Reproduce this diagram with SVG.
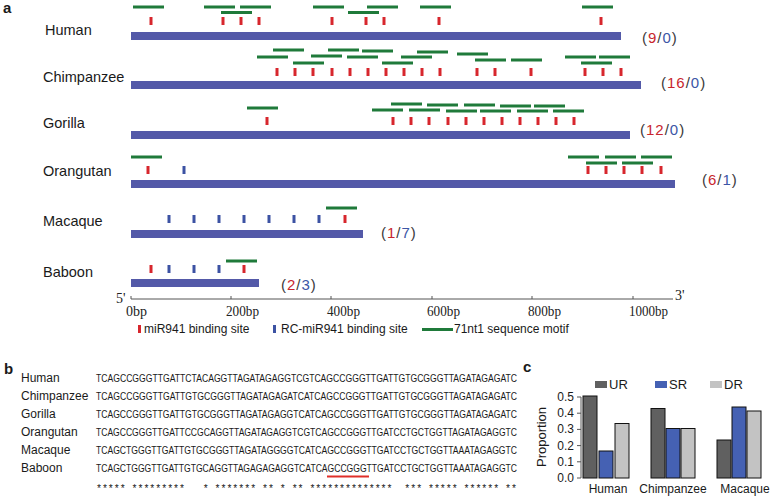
<svg xmlns="http://www.w3.org/2000/svg" width="773" height="497" viewBox="0 0 773 497">
<style>
text{font-family:"Liberation Sans",Arial,sans-serif;fill:#1a1a1a}
.pl{font-weight:bold;font-size:15px}
.sp{font-size:14.5px}
.cnt{font-size:15px;letter-spacing:1px;fill:#3a3a3a}
.r{fill:#c8262d}.b{fill:#3c56a6}
.bar{fill:#5359a8}
.rt{fill:#d7262d}
.bt{fill:#3c52a3}
.gm{fill:#1f7a3a}
.ax{stroke:#555;stroke-width:1;fill:none}
.bp{font-family:"Liberation Serif","Times New Roman",serif;font-size:14px;fill:#222}
.lg{font-size:12px}
.sq{font-size:10.8px}
.nm{font-size:12px}
.st{font-family:"Liberation Mono",monospace;font-size:10px;white-space:pre}
.cb{stroke:#111;stroke-width:1}
.ur{fill:#606060}.sr{fill:#4561b3}.dr{fill:#c3c3c3}
.ct{font-size:13px}
.tk{font-size:12px;text-anchor:end}
</style>
<defs>
<rect id="rt" x="-1.5" y="0" width="3" height="8" class="rt"/>
<rect id="bt" x="-1.5" y="0" width="3" height="8" class="bt"/>
<rect id="gm" x="0" y="-1.5" width="31" height="3" class="gm"/>
</defs>

<text x="3" y="13" class="pl">a</text>

<g id="human">
<text x="45" y="35" class="sp">Human</text>
<rect x="131" y="32" width="490" height="8" class="bar"/>
<g transform="translate(0,17)"><use href="#rt" x="151"/><use href="#rt" x="223"/><use href="#rt" x="241"/><use href="#rt" x="259"/><use href="#rt" x="332"/><use href="#rt" x="366"/><use href="#rt" x="384"/><use href="#rt" x="439"/><use href="#rt" x="601"/></g>
<use href="#gm" x="133" y="7"/><use href="#gm" x="204" y="7"/><use href="#gm" x="240" y="7"/><use href="#gm" x="313" y="7"/><use href="#gm" x="367" y="7"/><use href="#gm" x="420" y="7"/><use href="#gm" x="582" y="7"/>
<use href="#gm" x="221" y="12.5"/><use href="#gm" x="348" y="12.5"/>
<text x="642" y="43" class="cnt">(<tspan class="r">9</tspan>/<tspan class="b">0</tspan>)</text>
</g>

<g id="chimpanzee">
<text x="43" y="82" class="sp">Chimpanzee</text>
<rect x="131" y="81" width="510" height="8" class="bar"/>
<g transform="translate(0,68)"><use href="#rt" x="277"/><use href="#rt" x="295"/><use href="#rt" x="313"/><use href="#rt" x="332"/><use href="#rt" x="350"/><use href="#rt" x="368"/><use href="#rt" x="386"/><use href="#rt" x="404"/><use href="#rt" x="422"/><use href="#rt" x="440"/><use href="#rt" x="477"/><use href="#rt" x="495"/><use href="#rt" x="531"/><use href="#rt" x="585"/><use href="#rt" x="603"/><use href="#rt" x="621"/></g>
<use href="#gm" x="273" y="50"/><use href="#gm" x="257" y="57"/><use href="#gm" x="293" y="63"/><use href="#gm" x="328" y="50"/><use href="#gm" x="311" y="56"/><use href="#gm" x="362" y="51"/><use href="#gm" x="347" y="57"/><use href="#gm" x="382" y="63"/><use href="#gm" x="401" y="57"/><use href="#gm" x="417" y="52"/><use href="#gm" x="457" y="54"/><use href="#gm" x="475" y="60"/><use href="#gm" x="511" y="60"/><use href="#gm" x="565" y="57"/><use href="#gm" x="599" y="57"/><use href="#gm" x="581" y="63"/>
<text x="661" y="88" class="cnt">(<tspan class="r">16</tspan>/<tspan class="b">0</tspan>)</text>
</g>

<g id="gorilla">
<text x="43" y="128" class="sp">Gorilla</text>
<rect x="131" y="131" width="499" height="8" class="bar"/>
<g transform="translate(0,117)"><use href="#rt" x="267"/><use href="#rt" x="393"/><use href="#rt" x="411"/><use href="#rt" x="429"/><use href="#rt" x="448"/><use href="#rt" x="466"/><use href="#rt" x="484"/><use href="#rt" x="502"/><use href="#rt" x="520"/><use href="#rt" x="538"/><use href="#rt" x="556"/><use href="#rt" x="574"/></g>
<use href="#gm" x="247" y="108"/><use href="#gm" x="391" y="104"/><use href="#gm" x="372" y="110"/><use href="#gm" x="409" y="110"/><use href="#gm" x="427" y="105"/><use href="#gm" x="446" y="111"/><use href="#gm" x="464" y="105"/><use href="#gm" x="480" y="111"/><use href="#gm" x="500" y="106"/><use href="#gm" x="517" y="111"/><use href="#gm" x="534" y="106"/><use href="#gm" x="553" y="111"/>
<text x="640" y="135" class="cnt">(<tspan class="r">12</tspan>/<tspan class="b">0</tspan>)</text>
</g>

<g id="orangutan">
<text x="43" y="176" class="sp">Orangutan</text>
<rect x="131" y="180" width="544" height="8" class="bar"/>
<g transform="translate(0,166)"><use href="#rt" x="148"/><use href="#bt" x="184"/><use href="#rt" x="588"/><use href="#rt" x="606"/><use href="#rt" x="624"/><use href="#rt" x="642"/><use href="#rt" x="661"/></g>
<use href="#gm" x="131" y="157"/><use href="#gm" x="568" y="157"/><use href="#gm" x="605" y="157"/><use href="#gm" x="641" y="157"/><use href="#gm" x="586" y="163"/><use href="#gm" x="622" y="163"/>
<text x="702" y="185" class="cnt">(<tspan class="r">6</tspan>/<tspan class="b">1</tspan>)</text>
</g>

<g id="macaque">
<text x="43" y="226" class="sp">Macaque</text>
<rect x="131" y="230" width="232" height="8" class="bar"/>
<g transform="translate(0,215)"><use href="#bt" x="169"/><use href="#bt" x="194"/><use href="#bt" x="219"/><use href="#bt" x="244"/><use href="#bt" x="269"/><use href="#bt" x="294"/><use href="#bt" x="319"/><use href="#rt" x="345"/></g>
<use href="#gm" x="326" y="208"/>
<text x="381" y="238" class="cnt">(<tspan class="r">1</tspan>/<tspan class="b">7</tspan>)</text>
</g>

<g id="baboon">
<text x="43" y="277" class="sp">Baboon</text>
<rect x="131" y="279" width="128" height="8" class="bar"/>
<g transform="translate(0,265)"><use href="#rt" x="151"/><use href="#bt" x="169"/><use href="#bt" x="194"/><use href="#bt" x="219"/><use href="#rt" x="244"/></g>
<use href="#gm" x="226" y="261"/>
<text x="281" y="290" class="cnt">(<tspan class="r">2</tspan>/<tspan class="b">3</tspan>)</text>
</g>

<g id="axis">
<path class="ax" d="M131 299H673M131 299v-3M231 299v-3M331 299v-3M432 299v-3M532 299v-3M633 299v-3"/>
<text x="116" y="303" class="bp">5'</text>
<text x="675" y="300" class="bp">3'</text>
<text x="126" y="316" class="bp" textLength="21" lengthAdjust="spacingAndGlyphs">0bp</text>
<text x="226" y="316" class="bp" textLength="33" lengthAdjust="spacingAndGlyphs">200bp</text>
<text x="327" y="316" class="bp" textLength="33" lengthAdjust="spacingAndGlyphs">400bp</text>
<text x="427" y="316" class="bp" textLength="33" lengthAdjust="spacingAndGlyphs">600bp</text>
<text x="528" y="316" class="bp" textLength="33" lengthAdjust="spacingAndGlyphs">800bp</text>
<text x="629" y="316" class="bp" textLength="39" lengthAdjust="spacingAndGlyphs">1000bp</text>
</g>

<g id="legend-a">
<use href="#rt" x="139.5" y="325"/>
<text x="144" y="333" class="lg">miR941 binding site</text>
<use href="#bt" x="274.5" y="325"/>
<text x="281" y="333" class="lg">RC-miR941 binding site</text>
<rect x="422" y="328" width="31" height="3" class="gm"/>
<text x="454" y="333" class="lg">71nt1 sequence motif</text>
</g>

<text x="4" y="374" class="pl">b</text>
<g id="alignment">
<text x="21" y="382" class="nm">Human</text>
<text x="21" y="400" class="nm">Chimpanzee</text>
<text x="21" y="418" class="nm">Gorilla</text>
<text x="21" y="436" class="nm">Orangutan</text>
<text x="21" y="454" class="nm">Macaque</text>
<text x="21" y="472" class="nm">Baboon</text>
<text x="96" y="382" class="sq" textLength="421" lengthAdjust="spacingAndGlyphs">TCAGCCGGGTTGATTCTACAGGTTAGATAGAGGTCGTCAGCCGGGTTGATTGTGCGGGTTAGATAGAGATC</text>
<text x="96" y="400" class="sq" textLength="421" lengthAdjust="spacingAndGlyphs">TCAGCCGGGTTGATTGTGCGGGTTAGATAGAGATCATCAGCCGGGTTGATTGTGCGGGTTAGATAGAGATC</text>
<text x="96" y="418" class="sq" textLength="421" lengthAdjust="spacingAndGlyphs">TCAGCCGGGTTGATTGTGCGGGTTAGATAGAGGTCATCAGCCGGGTTGATTGTGCGGGTTAGATAGAGATC</text>
<text x="96" y="436" class="sq" textLength="421" lengthAdjust="spacingAndGlyphs">TCAGCCGGGTTGATTCCGCAGGTTAGATAGAGGTCGTCAGCCGGGTTGATCCTGCTGGTTAGATAGAGGTC</text>
<text x="96" y="454" class="sq" textLength="421" lengthAdjust="spacingAndGlyphs">TCAGCTGGGTTGATTGTGCGGGTTAGATAGGGGTCATCAGCCGGGTTGATCCTGCTGGTTAAATAGAGGTC</text>
<text x="96" y="472" class="sq" textLength="421" lengthAdjust="spacingAndGlyphs">TCAGCTGGGTTGATTGTGCAGGTTAGAGAGAGGTCATCAGCCGGGTTGATCCTGCTGGTTAAATAGAGGTC</text>
<line x1="327" y1="476.5" x2="369" y2="476.5" stroke="#e0302a" stroke-width="2"/>
<text x="96" y="492" class="st" xml:space="preserve" textLength="421" lengthAdjust="spacing">***** *********   * ******* ** * ** **************  *** ***** ****** **</text>
</g>

<text x="523" y="372" class="pl">c</text>
<g id="chart-c">
<rect x="595" y="381" width="12" height="7" class="ur"/>
<text x="609" y="389" class="ct">UR</text>
<rect x="655" y="381" width="12" height="7" class="sr"/>
<text x="669" y="389" class="ct">SR</text>
<rect x="710" y="381" width="12" height="7" class="dr"/>
<text x="724" y="389" class="ct">DR</text>
<path class="ax" stroke="#222" d="M581 397V478M577 478H581M577 461.8H581M577 445.6H581M577 429.4H581M577 413.2H581M577 397H581"/>
<text x="574" y="482" class="tk" font-size="12">0.0</text>
<text x="574" y="465.8" class="tk" font-size="12">0.1</text>
<text x="574" y="449.6" class="tk" font-size="12">0.2</text>
<text x="574" y="433.4" class="tk" font-size="12">0.3</text>
<text x="574" y="417.2" class="tk" font-size="12">0.4</text>
<text x="574" y="401" class="tk" font-size="12">0.5</text>
<text transform="translate(546,437) rotate(-90)" class="ct" text-anchor="middle">Proportion</text>
<rect x="583" y="396" width="14" height="82" class="ur cb"/>
<rect x="599" y="451" width="14" height="27" class="sr cb"/>
<rect x="615" y="423.5" width="14" height="54.5" class="dr cb"/>
<rect x="651" y="408.5" width="14" height="69.5" class="ur cb"/>
<rect x="666" y="428.5" width="14" height="49.5" class="sr cb"/>
<rect x="681" y="428.5" width="14" height="49.5" class="dr cb"/>
<rect x="717" y="440" width="14" height="38" class="ur cb"/>
<rect x="732" y="407" width="14" height="71" class="sr cb"/>
<rect x="747" y="411" width="14" height="67" class="dr cb"/>
<text x="608" y="493" class="nm" text-anchor="middle">Human</text>
<text x="673" y="493" class="nm" text-anchor="middle">Chimpanzee</text>
<text x="745" y="493" class="nm" text-anchor="middle">Macaque</text>
</g>
</svg>
